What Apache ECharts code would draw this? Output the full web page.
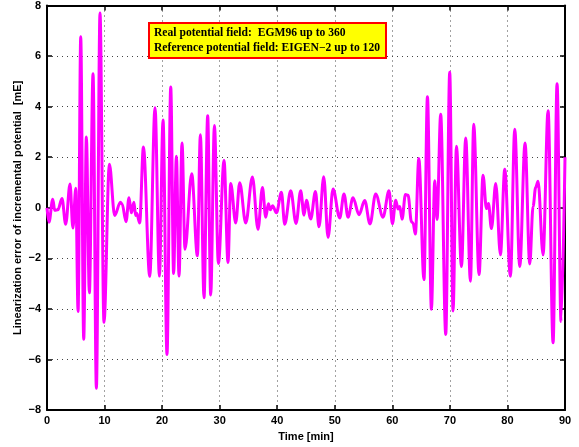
<!DOCTYPE html>
<html><head><meta charset="utf-8">
<script src="https://cdn.jsdelivr.net/npm/echarts@6/dist/echarts.min.js"></script>
<style>html,body{margin:0;padding:0;background:#fff}#c{width:579px;height:447px}</style>
</head><body><div id="c"></div>
<script>
const times = [0,0.35,1.0,1.34,1.9,2.6,3.25,4.0,4.5,5.0,5.4,5.86,6.38,6.84,7.36,8.0,8.58,9.21,9.9,10.84,11.76,12.75,13.05,13.73,14.25,14.66,15.1,15.4,15.6,16.1,16.75,17.85,18.77,19.53,20.16,20.85,21.5,22.0,22.48,22.94,23.46,23.98,25.14,26.13,26.65,27.28,27.92,28.44,29.09,29.78,30.76,31.45,31.92,32.79,33.48,34.53,35.69,36.66,37.43,38.0,38.47,38.8,39.2,39.86,40.73,41.3,42.35,43.27,44.08,44.66,45.07,45.82,46.64,47.26,48.08,48.83,49.7,50.86,51.6,52.3,53.17,54.21,55.2,56.12,57.11,58.38,59.42,60.02,60.59,61.0,61.3,61.69,62.28,62.73,63.32,63.6,64.0,64.6,65.5,66.1,66.79,67.37,67.77,68.4,69.28,69.97,70.55,71.14,72.01,72.75,73.57,74.14,75.07,75.76,76.35,76.7,77.22,77.97,78.78,79.53,80.52,81.27,82.14,83.06,83.88,84.45,84.9,85.32,86.19,87.06,87.93,88.62,89.31,90.0];
const values = [0,-0.57,0.34,-0.1,-0.08,0.37,-0.65,0.94,-0.8,0.77,-4.1,6.76,-5.2,2.8,-3.36,5.3,-7.14,7.7,-4.53,1.72,-0.3,0.22,0.15,-0.55,0.4,-0.2,0.22,-0.3,-0.22,-0.6,2.4,-2.71,3.96,-2.7,3.47,-5.8,4.78,-2.6,2.04,-2.7,2.56,-1.64,1.35,-1.9,2.89,-3.56,3.64,-3.45,3.25,-2.2,1.87,-2.16,0.96,-0.6,0.99,-0.6,1.22,-0.85,0.8,-0.37,0.16,-0.08,0.08,-0.2,0.61,-0.65,0.67,-0.62,0.67,-0.29,0.3,-0.44,0.64,-0.75,1.23,-1.17,0.74,-0.4,0.55,-0.37,0.4,-0.27,0.29,-0.64,0.55,-0.37,0.67,-0.63,0.3,-0.05,0.05,-0.45,0.53,0.5,-0.55,-0.6,-1.04,1.95,-2.84,4.39,-4.01,1.07,-0.46,3.7,-5.01,5.36,-4.08,2.43,-2.32,2.76,-2.9,3.3,-2.64,1.29,-0.03,0.17,-0.82,0.96,-1.86,1.52,-2.71,3.11,-2.32,2.56,-2.22,0.05,0.8,1.05,-1.86,3.84,-5.34,4.91,-4.5,2.0];
const xTicks = [0,10,20,30,40,50,60,70,80,90];
const yTicks = [-8,-6,-4,-2,0,2,4,6,8];
const legendLines = ['Real potential field:  EGM96 up to 360', 'Reference potential field: EIGEN\u22122 up to 120'];
const xName = 'Time [min]';
const yName = 'Linearization error of incremental potential  [mE]';

const chart = echarts.init(document.getElementById('c'), null, {renderer:'canvas'});
const fmt = v => (v < 0 ? '\u2212' + Math.abs(v) : String(v));
const lab = {color:'#000', fontFamily:'Liberation Sans, Arial, sans-serif', fontWeight:'bold', fontSize:11};
const border = {show:true, onZero:false, lineStyle:{color:'#000', width:2}};
const tick = {show:true, inside:true, length:5, lineStyle:{color:'#000', width:1.5}};
const grid = {show:true, lineStyle:{color:'#444', type:[1,4], width:1}};
chart.setOption({
  animation:false,
  grid:{left:47, right:14, top:4, bottom:35, containLabel:false},
  xAxis:[
    {type:'value', min:xTicks[0], max:xTicks[xTicks.length-1], interval:10, position:'bottom',
     axisLine:border, axisTick:tick, splitLine:grid,
     axisLabel:Object.assign({margin:5, formatter:fmt}, lab),
     name:xName, nameLocation:'middle', nameGap:20, nameTextStyle:lab},
    {type:'value', min:0, max:90, interval:10, position:'top',
     axisLine:border, axisTick:tick, splitLine:{show:false}, axisLabel:{show:false}}
  ],
  yAxis:[
    {type:'value', min:yTicks[0], max:yTicks[yTicks.length-1], interval:2, position:'left',
     axisLine:border, axisTick:tick, splitLine:grid,
     axisLabel:Object.assign({margin:6, formatter:fmt}, lab),
     name:yName, nameLocation:'middle', nameGap:24, nameRotate:90, nameMoveOverlap:false, nameTextStyle:lab},
    {type:'value', min:-8, max:8, interval:2, position:'right',
     axisLine:border, axisTick:tick, splitLine:{show:false}, axisLabel:{show:false}}
  ],
  series:[{
    type:'line', xAxisIndex:0, yAxisIndex:0,
    data: times.map((t,i)=>[t, values[i]]),
    smooth:0.35, smoothMonotone:'x', showSymbol:false,
    lineStyle:{color:'#ff00ff', width:3}, itemStyle:{color:'#ff00ff'}
  }],
  graphic:[
    {type:'rect', shape:{x:149, y:23, width:237, height:35}, style:{fill:'#ffff00', stroke:'#ff0000', lineWidth:2}, z:100},
    {type:'text', x:154, y:27, style:{text:legendLines[0], fill:'#000', font:'bold 11.6px "Liberation Serif", "Times New Roman", serif'}, z:101},
    {type:'text', x:154, y:42, style:{text:legendLines[1], fill:'#000', font:'bold 11.6px "Liberation Serif", "Times New Roman", serif'}, z:101}
  ]
});
</script></body></html>
